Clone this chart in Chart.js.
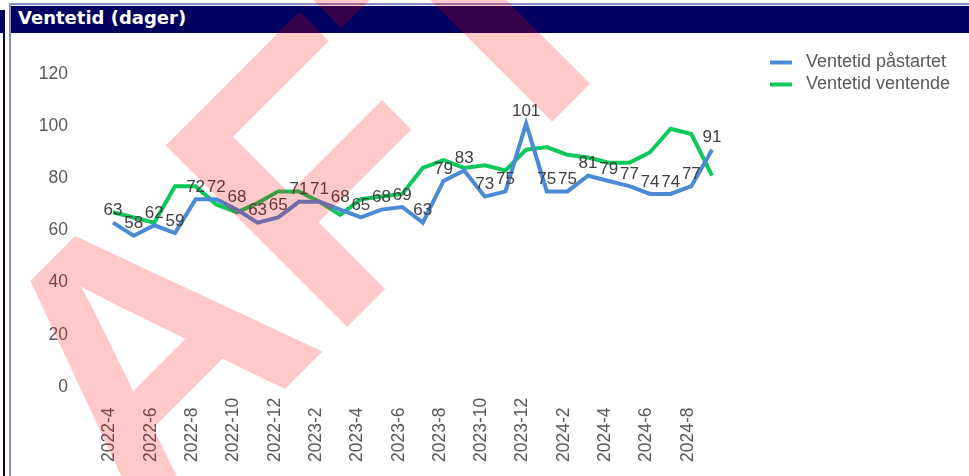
<!DOCTYPE html>
<html>
<head>
<meta charset="utf-8">
<script src="https://cdn.jsdelivr.net/npm/chart.js@4.4.1/dist/chart.umd.min.js"></script>
<style>
  body { margin: 0; background: #fff; width: 969px; height: 476px; overflow: hidden; position: relative; }
  #sideBlock { position: absolute; left: 0; top: 10px; width: 5px; height: 23px; background: #01015f; }
  #sideLine { position: absolute; left: 3px; top: 10px; width: 2px; height: 466px; background: #01015f; }
  #frame { position: absolute; left: 9px; top: 3px; right: 0; bottom: 0; border-left: 2px solid #8a8ac4; border-top: 2px solid #8a8ac4; }
  #title { position: absolute; left: 11px; top: 6px; right: 0; height: 27px; background: #01015f; color: #fff;
           font: bold 18px "DejaVu Sans", Verdana, sans-serif; line-height: 23px; padding-left: 7px; box-sizing: border-box; }
  #wrap { position: absolute; left: 12px; top: 33px; }
  #stamp { position: absolute; left: 0; top: 0; pointer-events: none; }
</style>
</head>
<body>
<div id="sideBlock"></div>
<div id="sideLine"></div>
<div id="frame"></div>
<div id="title">Ventetid (dager)</div>
<div id="wrap"><canvas id="myChart" width="957" height="443"></canvas></div>
<canvas id="stamp" width="969" height="476"></canvas>
<script>
// Ventetid per måned, to serier

const months = [
  '2022-4', '2022-5', '2022-6', '2022-7', '2022-8', '2022-9', '2022-10', '2022-11', '2022-12',
  '2023-1', '2023-2', '2023-3', '2023-4', '2023-5', '2023-6', '2023-7', '2023-8', '2023-9',
  '2023-10', '2023-11', '2023-12', '2024-1', '2024-2', '2024-3', '2024-4', '2024-5', '2024-6',
  '2024-7', '2024-8', '2024-9'
];

const startet = [63, 58, 62, 59, 72, 72, 68, 63, 65, 71, 71, 68, 65, 68, 69, 63, 79, 83, 73, 75,
                 101, 75, 75, 81, 79, 77, 74, 74, 77, 91];

const ventende = [67, 65, 63, 77, 77, 70, 67, 70.5, 75, 75, 71, 66, 72, 73, 74, 84, 87, 84, 85, 83,
                  91, 92, 89, 88, 86, 86, 90, 99, 97, 81];

const yTicks = [0, 20, 40, 60, 80, 100, 120];

const BLUE = '#4a8ad6';
const GREEN = '#0cc85a';
const TEXT = '#595959';
const FONT = '"Liberation Sans", Arial, sans-serif';

// verdier over den blå linja
const valueLabels = {
  id: 'valueLabels',
  afterDatasetsDraw(chart) {
    const c = chart.ctx;
    const meta = chart.getDatasetMeta(0);
    c.save();
    c.font = '17px ' + FONT;
    c.fillStyle = '#404040';
    c.textAlign = 'center';
    c.textBaseline = 'middle';
    meta.data.forEach((pt, i) => {
      c.fillText(String(chart.data.datasets[0].data[i]), pt.x, pt.y - 12);
    });
    c.restore();
  }
};

// loddrette månedsetiketter, annenhver måned, festet nederst
const monthLabels = {
  id: 'monthLabels',
  afterDraw(chart) {
    const c = chart.ctx;
    const xs = chart.scales.x;
    c.save();
    c.font = '17.5px ' + FONT;
    c.fillStyle = TEXT;
    c.textAlign = 'left';
    c.textBaseline = 'middle';
    chart.data.labels.forEach((lab, i) => {
      if (i % 2) return;
      c.save();
      c.translate(xs.getPixelForValue(i) - 3.5, 429);
      c.rotate(-Math.PI / 2);
      c.fillText(lab, 0, 0);
      c.restore();
    });
    c.restore();
  }
};

// forklaring oppe til høyre
const sideLegend = {
  id: 'sideLegend',
  afterDraw(chart) {
    const c = chart.ctx;
    c.save();
    c.font = '18px ' + FONT;
    c.textBaseline = 'middle';
    chart.data.datasets.forEach((ds, i) => {
      const y = 29.5 + i * 22;
      c.fillStyle = ds.borderColor;
      c.fillRect(758, y - 2, 22, 4);
      c.fillStyle = TEXT;
      c.fillText(ds.label, 794, y);
    });
    c.restore();
  }
};

const ctx = document.getElementById('myChart');

const chart = new Chart(ctx, {
  type: 'line',
  data: {
    labels: months,
    datasets: [
      { label: 'Ventetid påstartet', data: startet, borderColor: BLUE, backgroundColor: BLUE,
        borderWidth: 4, pointRadius: 0, tension: 0, fill: false },
      { label: 'Ventetid ventende', data: ventende, borderColor: GREEN, backgroundColor: GREEN,
        borderWidth: 4, pointRadius: 0, tension: 0, fill: false }
    ]
  },
  options: {
    responsive: false,
    animation: false,
    devicePixelRatio: 1,
    layout: { padding: { left: 27, right: 257, top: 41, bottom: 89 } },
    plugins: { legend: { display: false }, tooltip: { enabled: false } },
    scales: {
      x: { display: false, offset: false },
      y: {
        min: 0,
        max: 120,
        afterBuildTicks(s) { s.ticks = yTicks.map(v => ({ value: v })); },
        afterFit(s) { s.width = 74; s.paddingTop = 0; s.paddingBottom = 0; },
        ticks: { padding: 45, color: TEXT, font: { size: 17.5, family: FONT } },
        grid: { display: false, drawTicks: false },
        border: { display: false }
      }
    }
  },
  plugins: [valueLabels, monthLabels, sideLegend]
});

// rødt vannmerke over hele panelet
const st = document.getElementById('stamp').getContext('2d');
st.save();
st.translate(139, 535);
st.rotate(-Math.PI / 4);
st.font = 'bold 373px ' + FONT;
st.fillStyle = 'rgba(255, 0, 0, 0.21)';
st.textBaseline = 'alphabetic';
st.fillText('AFT', 0, 0);
st.restore();
</script>
</body>
</html>
